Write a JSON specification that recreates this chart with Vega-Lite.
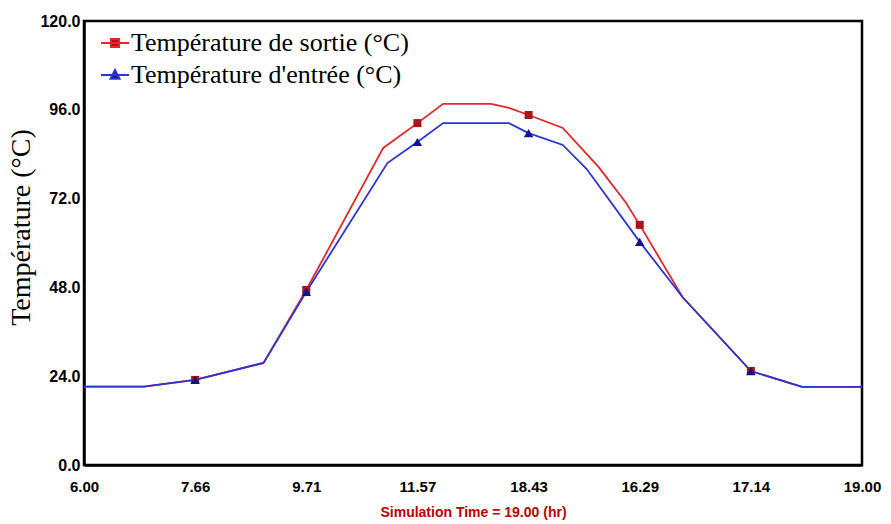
{
  "$schema": "https://vega.github.io/schema/vega-lite/v6.json",
  "width": 778,
  "height": 444,
  "autosize": "none",
  "padding": {"left": 84, "top": 21, "right": 29, "bottom": 59},
  "background": "white",
  "config": {
    "view": {"stroke": "black", "strokeWidth": 2.5},
    "axis": {"grid": false}
  },
  "datasets": {
    "curve": [
      {"series": "Température de sortie (°C)", "time": 6.0, "temp": 21.2},
      {"series": "Température de sortie (°C)", "time": 7.0, "temp": 21.2},
      {"series": "Température de sortie (°C)", "time": 7.857, "temp": 23.0},
      {"series": "Température de sortie (°C)", "time": 9.0, "temp": 27.6},
      {"series": "Température de sortie (°C)", "time": 9.714, "temp": 47.3},
      {"series": "Température de sortie (°C)", "time": 11.0, "temp": 85.7},
      {"series": "Température de sortie (°C)", "time": 11.571, "temp": 92.4},
      {"series": "Température de sortie (°C)", "time": 12.0, "temp": 97.6},
      {"series": "Température de sortie (°C)", "time": 12.8, "temp": 97.6},
      {"series": "Température de sortie (°C)", "time": 13.1, "temp": 96.5},
      {"series": "Température de sortie (°C)", "time": 13.429, "temp": 94.6},
      {"series": "Température de sortie (°C)", "time": 14.0, "temp": 91.1},
      {"series": "Température de sortie (°C)", "time": 14.6, "temp": 80.5},
      {"series": "Température de sortie (°C)", "time": 15.05, "temp": 71.0},
      {"series": "Température de sortie (°C)", "time": 15.286, "temp": 64.9},
      {"series": "Température de sortie (°C)", "time": 16.0, "temp": 45.4},
      {"series": "Température de sortie (°C)", "time": 17.143, "temp": 25.4},
      {"series": "Température de sortie (°C)", "time": 18.0, "temp": 21.1},
      {"series": "Température de sortie (°C)", "time": 19.0, "temp": 21.1},
      {"series": "Température d'entrée (°C)", "time": 6.0, "temp": 21.2},
      {"series": "Température d'entrée (°C)", "time": 7.0, "temp": 21.2},
      {"series": "Température d'entrée (°C)", "time": 7.857, "temp": 23.0},
      {"series": "Température d'entrée (°C)", "time": 9.0, "temp": 27.6},
      {"series": "Température d'entrée (°C)", "time": 9.714, "temp": 46.8},
      {"series": "Température d'entrée (°C)", "time": 11.07, "temp": 81.6},
      {"series": "Température d'entrée (°C)", "time": 11.571, "temp": 87.3},
      {"series": "Température d'entrée (°C)", "time": 12.0, "temp": 92.4},
      {"series": "Température d'entrée (°C)", "time": 13.1, "temp": 92.4},
      {"series": "Température d'entrée (°C)", "time": 13.429, "temp": 89.7},
      {"series": "Température d'entrée (°C)", "time": 14.0, "temp": 86.5},
      {"series": "Température d'entrée (°C)", "time": 14.4, "temp": 80.0},
      {"series": "Température d'entrée (°C)", "time": 15.286, "temp": 60.3},
      {"series": "Température d'entrée (°C)", "time": 16.0, "temp": 45.4},
      {"series": "Température d'entrée (°C)", "time": 17.143, "temp": 25.4},
      {"series": "Température d'entrée (°C)", "time": 18.0, "temp": 21.1},
      {"series": "Température d'entrée (°C)", "time": 19.0, "temp": 21.1}
    ],
    "samples": [
      {"series": "Température d'entrée (°C)", "time": 7.857, "temp": 23.0},
      {"series": "Température de sortie (°C)", "time": 7.857, "temp": 23.0},
      {"series": "Température de sortie (°C)", "time": 9.714, "temp": 47.3},
      {"series": "Température d'entrée (°C)", "time": 9.714, "temp": 46.8},
      {"series": "Température de sortie (°C)", "time": 11.571, "temp": 92.4},
      {"series": "Température d'entrée (°C)", "time": 11.571, "temp": 87.3},
      {"series": "Température de sortie (°C)", "time": 13.429, "temp": 94.6},
      {"series": "Température d'entrée (°C)", "time": 13.429, "temp": 89.7},
      {"series": "Température de sortie (°C)", "time": 15.286, "temp": 64.9},
      {"series": "Température d'entrée (°C)", "time": 15.286, "temp": 60.3},
      {"series": "Température de sortie (°C)", "time": 17.143, "temp": 25.4},
      {"series": "Température d'entrée (°C)", "time": 17.143, "temp": 25.4}
    ]
  },
  "layer": [
    {
      "data": {"name": "curve"},
      "mark": {"type": "line", "strokeWidth": 1.8},
      "encoding": {
        "x": {
          "field": "time", "type": "quantitative",
          "scale": {"domain": [6, 19], "nice": false, "zero": false},
          "axis": {
            "values": [6, 7.857, 9.714, 11.571, 13.429, 15.286, 17.143, 19],
            "labelExpr": "datum.value < 7 ? '6.00' : datum.value < 8.5 ? '7.66' : datum.value < 10.5 ? '9.71' : datum.value < 12.5 ? '11.57' : datum.value < 14.5 ? '18.43' : datum.value < 16.5 ? '16.29' : datum.value < 18 ? '17.14' : '19.00'",
            "labelFont": "Liberation Sans", "labelFontWeight": "bold", "labelFontSize": 15, "labelColor": "black",
            "labelFlush": false, "labelOverlap": false, "labelBound": false,
            "ticks": false, "labelPadding": 14,
            "domainColor": "black", "domainWidth": 2.5,
            "title": "Simulation Time = 19.00 (hr)",
            "titleFont": "Liberation Sans", "titleFontWeight": "bold", "titleFontSize": 14, "titleColor": "#c00000",
            "titlePadding": 11
          }
        },
        "y": {
          "field": "temp", "type": "quantitative",
          "scale": {"domain": [0, 120], "nice": false},
          "axis": {
            "values": [0, 24, 48, 72, 96, 120],
            "format": ".1f",
            "labelFont": "Liberation Sans", "labelFontWeight": "bold", "labelFontSize": 16, "labelColor": "black",
            "ticks": false, "labelPadding": 4,
            "domainColor": "black", "domainWidth": 2.5,
            "title": "Température (°C)",
            "titleFont": "Liberation Serif", "titleFontWeight": "normal", "titleFontSize": 28, "titleColor": "black",
            "titlePadding": 4, "titleY": 206
          }
        },
        "color": {
          "field": "series", "type": "nominal",
          "scale": {"domain": ["Température de sortie (°C)", "Température d'entrée (°C)"], "range": ["#e8262a", "#2b35d6"]},
          "legend": {
            "orient": "none", "legendX": 16, "legendY": 7,
            "title": null, "padding": 0,
            "labelFont": "Liberation Serif", "labelFontSize": 26, "labelColor": "black", "labelLimit": 0,
            "symbolSize": 784, "symbolStrokeWidth": 2, "labelOffset": 1, "rowPadding": 4,
            "encode": {
              "symbols": {
                "update": {
                  "shape": {"signal": "datum.value === 'Température de sortie (°C)' ? 'M-1,0H1M-0.29,-0.29H0.29V0.29H-0.29Z' : 'M-1,0H1M0,-0.36L0.32,0.26H-0.32Z'"},
                  "fill": {"signal": "datum.value === 'Température de sortie (°C)' ? '#a8141a' : '#14148a'"}
                }
              }
            }
          }
        }
      }
    },
    {
      "data": {"name": "samples"},
      "transform": [{"filter": "datum.series === 'Température de sortie (°C)'"}],
      "mark": {"type": "point", "shape": "square", "filled": true, "opacity": 1, "strokeWidth": 0, "fill": "#a8141a", "size": 64},
      "encoding": {
        "x": {"field": "time", "type": "quantitative"},
        "y": {"field": "temp", "type": "quantitative"}
      }
    },
    {
      "data": {"name": "samples"},
      "transform": [{"filter": "datum.series === 'Température d\\'entrée (°C)'"}],
      "mark": {"type": "point", "shape": "triangle-up", "filled": true, "opacity": 1, "strokeWidth": 0, "fill": "#14148a", "size": 90},
      "encoding": {
        "x": {"field": "time", "type": "quantitative"},
        "y": {"field": "temp", "type": "quantitative"}
      }
    }
  ]
}
